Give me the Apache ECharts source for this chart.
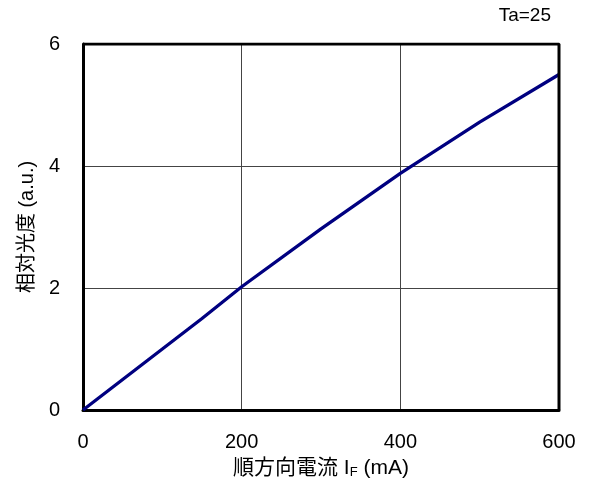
<!DOCTYPE html>
<html>
<head>
<meta charset="utf-8">
<script src="https://cdn.jsdelivr.net/npm/echarts@6/dist/echarts.min.js"></script>
<style>
html,body{margin:0;padding:0;background:#fff;}
#chart{width:590px;height:488px;}
</style>
</head>
<body>
<div id="chart"></div>
<script>
// Forward current (mA) vs. relative luminous intensity (a.u.)
const currentMA = [0, 150, 200, 300, 400, 500, 600];
const relIntensity = [0, 1.5, 2.02, 2.97, 3.88, 4.72, 5.5];
const xTicks = [0, 200, 400, 600];
const yTicks = [0, 2, 4, 6];
const conditionLabel = 'Ta=25';

const font = '"Liberation Sans", Arial, sans-serif';
const cjkFont = '"Liberation Sans", "Noto Sans CJK JP", sans-serif';

const chart = echarts.init(document.getElementById('chart'));
chart.setOption({
  animation: false,
  backgroundColor: '#fff',
  grid: { left: 83, right: 31, top: 44, bottom: 78, show: false },
  graphic: [{
    type: 'text',
    right: 39, top: 6,
    style: { text: conditionLabel, font: '19px ' + font, fill: '#000' }
  }],
  xAxis: {
    type: 'value',
    min: xTicks[0], max: xTicks[xTicks.length - 1], interval: 200,
    name: '{t|順方向電流 I}{s|F}{t| (mA)}',
    nameLocation: 'middle', nameGap: 47,
    nameTextStyle: {
      rich: {
        t: { fontSize: 21, fontFamily: cjkFont, color: '#000' },
        s: { fontSize: 13, fontFamily: font, color: '#000', padding: [9, 0, 0, 0] }
      }
    },
    axisLine: { show: true, onZero: false, lineStyle: { color: '#000', width: 3 } },
    axisTick: { show: false },
    axisLabel: { color: '#000', fontSize: 20, fontFamily: font, margin: 22 },
    splitLine: { show: true, lineStyle: { color: '#444', width: 1 } }
  },
  yAxis: {
    type: 'value',
    min: yTicks[0], max: yTicks[yTicks.length - 1], interval: 2,
    name: '相対光度 (a.u.)',
    nameLocation: 'middle', nameGap: 46,
    nameTextStyle: { fontSize: 20, fontFamily: cjkFont, color: '#000' },
    axisLine: { show: true, onZero: false, lineStyle: { color: '#000', width: 3 } },
    axisTick: { show: false },
    axisLabel: { color: '#000', fontSize: 20, fontFamily: font, margin: 23, padding: [7, 0, 0, 0] },
    splitLine: { show: true, lineStyle: { color: '#444', width: 1 } }
  },
  series: [
    {
      type: 'line',
      data: currentMA.map((x, i) => [x, relIntensity[i]]),
      showSymbol: false,
      lineStyle: { color: '#000080', width: 3.3 },
      z: 5
    },
    {
      // frame around the plot area (top and right edges)
      type: 'line',
      data: [[0, 6], [600, 6], [600, 0]],
      showSymbol: false,
      silent: true,
      lineStyle: { color: '#000', width: 3 },
      z: 6
    }
  ]
});
</script>
</body>
</html>
